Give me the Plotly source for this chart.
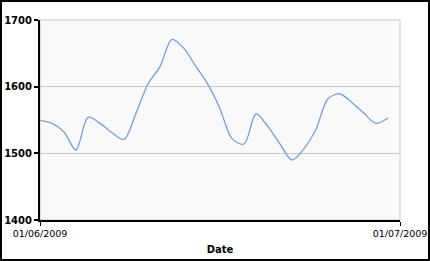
import plotly.graph_objects as go

dates = ["2009-06-%02d" % d for d in range(1, 31)]
values = [1549, 1545, 1532, 1505, 1554, 1545, 1531, 1521, 1560, 1604,
          1630, 1671, 1657, 1630, 1603, 1567, 1522, 1514, 1559, 1540,
          1514, 1490, 1507, 1536, 1582, 1589, 1576, 1560, 1545, 1553]
x_ticks = ["2009-06-01", "2009-07-01"]
x_tick_labels = ["01/06/2009", "01/07/2009"]
y_ticks = [1400, 1500, 1600, 1700]

W, H = 430, 261
ML, MR, MT, MB = 40, 30, 20, 41
PW, PH = W - ML - MR, H - MT - MB

fig = go.Figure()
fig.add_trace(go.Scatter(
    x=dates, y=values, mode="lines",
    line=dict(color="#6fa0dc", width=1.3, shape="spline", smoothing=0.9),
    hoverinfo="skip", showlegend=False))

fig.update_layout(
    width=W, height=H,
    margin=dict(l=ML, r=MR, t=MT, b=MB, pad=0),
    paper_bgcolor="white", plot_bgcolor="#f9f9f9",
    font=dict(family="DejaVu Sans", color="black"),
    xaxis=dict(
        type="date", range=[x_ticks[0], x_ticks[1]],
        tickvals=x_ticks, ticktext=x_tick_labels,
        ticks="outside", ticklen=4, tickwidth=1, tickcolor="black",
        showline=True, linecolor="black", linewidth=2,
        showgrid=False, zeroline=False,
        tickfont=dict(family="DejaVu Sans", size=9.5, color="black"),
        title=dict(text="<b>Date</b>", font=dict(family="DejaVu Sans", size=10, color="black"), standoff=8),
        automargin=False, fixedrange=True),
    yaxis=dict(
        range=[1400, 1700], tickvals=y_ticks,
        ticktext=["<b>%d</b>" % v for v in y_ticks],
        ticks="outside", ticklen=4, tickwidth=2, tickcolor="black",
        showline=True, linecolor="black", linewidth=2,
        showgrid=True, gridcolor="#c8c8c8", gridwidth=1, zeroline=False,
        tickfont=dict(family="DejaVu Sans", size=10, color="black"),
        automargin=False, fixedrange=True),
    shapes=[
        dict(type="rect", xref="paper", yref="paper", x0=0, x1=1, y0=0, y1=1,
             line=dict(color="#c8c8c8", width=1), layer="between"),
        dict(type="rect", xref="paper", yref="paper",
             x0=(-ML + 1) / PW, x1=1 + (MR - 1) / PW,
             y0=(-MB + 1) / PH, y1=1 + (MT - 1) / PH,
             line=dict(color="black", width=2), layer="above"),
    ],
)

fig.write_html("out.html", config={"displayModeBar": False})
